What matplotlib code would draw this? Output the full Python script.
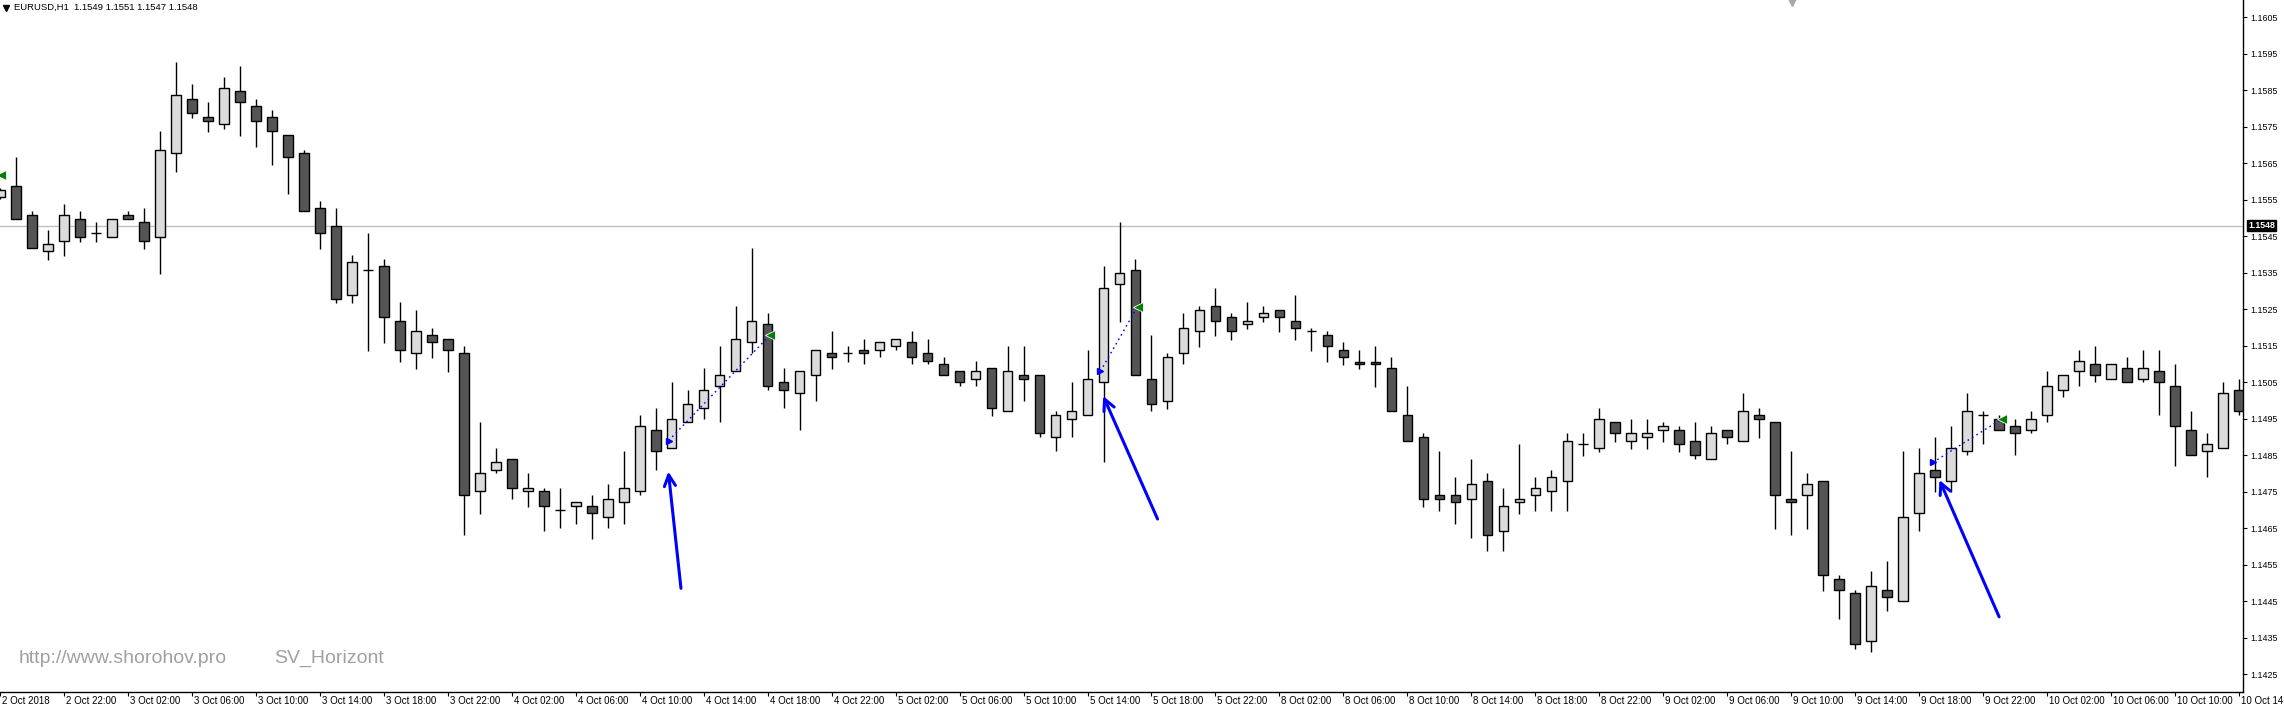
import numpy as np
import matplotlib
matplotlib.use("Agg")
import matplotlib.pyplot as plt
import matplotlib.transforms as mtransforms

plt.rcParams['font.family'] = ['Liberation Sans', 'DejaVu Sans']

# EURUSD H1 bars, 2 Oct 18:00 .. 10 Oct 14:00
opens = [1.15557, 1.15588, 1.15508, 1.15409, 1.15437, 1.15497, 1.15459, 1.15448, 1.15508, 1.15489,
         1.15448, 1.15678, 1.15826, 1.15777, 1.15757, 1.15848, 1.15807, 1.15777, 1.15727, 1.15678,
         1.15527, 1.15478, 1.15289, 1.15357, 1.15368, 1.15218, 1.15130, 1.15179, 1.15168, 1.15130,
         1.14752, 1.14809, 1.14840, 1.14752, 1.14752, 1.14700, 1.14711, 1.14711, 1.14681, 1.14722,
         1.14752, 1.14919, 1.14870, 1.14941, 1.14979, 1.15040, 1.15081, 1.15160, 1.15209, 1.15050,
         1.15020, 1.15070, 1.15130, 1.15130, 1.15138, 1.15138, 1.15149, 1.15160, 1.15130, 1.15100,
         1.15081, 1.15059, 1.15089, 1.14971, 1.15070, 1.15070, 1.14900, 1.14949, 1.14960, 1.15050,
         1.15319, 1.15357, 1.15059, 1.14998, 1.15130, 1.15190, 1.15259, 1.15229, 1.15209, 1.15229,
         1.15248, 1.15218, 1.15190, 1.15179, 1.15138, 1.15107, 1.15107, 1.15089, 1.14960, 1.14900,
         1.14741, 1.14741, 1.14730, 1.14779, 1.14642, 1.14722, 1.14741, 1.14752, 1.14779, 1.14881,
         1.14870, 1.14941, 1.14889, 1.14900, 1.14919, 1.14919, 1.14889, 1.14840, 1.14919, 1.14889,
         1.14960, 1.14941, 1.14730, 1.14741, 1.14779, 1.14511, 1.14472, 1.14341, 1.14481, 1.14450,
         1.14692, 1.14809, 1.14779, 1.14861, 1.14960, 1.14949, 1.14930, 1.14919, 1.14960, 1.15029,
         1.15081, 1.15100, 1.15059, 1.15089, 1.15059, 1.15081, 1.15040, 1.14919, 1.14861, 1.14870,
         1.15029]
highs = [1.15583, 1.15668, 1.15519, 1.15468, 1.15539, 1.15519, 1.15490, 1.15497, 1.15519, 1.15528,
         1.15739, 1.15928, 1.15868, 1.15819, 1.15887, 1.15917, 1.15826, 1.15797, 1.15727, 1.15686,
         1.15546, 1.15527, 1.15399, 1.15459, 1.15388, 1.15270, 1.15249, 1.15199, 1.15168, 1.15150,
         1.14942, 1.14870, 1.14840, 1.14801, 1.14760, 1.14760, 1.14722, 1.14741, 1.14771, 1.14862,
         1.14960, 1.14979, 1.15050, 1.15029, 1.15089, 1.15149, 1.15259, 1.15418, 1.15240, 1.15089,
         1.15081, 1.15138, 1.15190, 1.15149, 1.15168, 1.15160, 1.15168, 1.15190, 1.15168, 1.15119,
         1.15081, 1.15108, 1.15089, 1.15149, 1.15149, 1.15070, 1.14971, 1.15050, 1.15138, 1.15368,
         1.15490, 1.15388, 1.15179, 1.15130, 1.15240, 1.15259, 1.15308, 1.15240, 1.15270, 1.15259,
         1.15248, 1.15289, 1.15198, 1.15190, 1.15160, 1.15138, 1.15149, 1.15119, 1.15040, 1.14911,
         1.14861, 1.14790, 1.14840, 1.14801, 1.14760, 1.14881, 1.14790, 1.14809, 1.14911, 1.14911,
         1.14979, 1.14941, 1.14949, 1.14949, 1.14941, 1.14930, 1.14941, 1.14930, 1.14919, 1.15020,
         1.14979, 1.14941, 1.14861, 1.14801, 1.14779, 1.14522, 1.14481, 1.14533, 1.14560, 1.14861,
         1.14870, 1.14900, 1.14930, 1.15020, 1.14971, 1.14960, 1.14949, 1.14971, 1.15081, 1.15070,
         1.15138, 1.15149, 1.15100, 1.15119, 1.15138, 1.15138, 1.15100, 1.14971, 1.14911, 1.15050,
         1.15059]
lows = [1.15553, 1.15498, 1.15418, 1.15386, 1.15397, 1.15436, 1.15436, 1.15448, 1.15497, 1.15417,
        1.15348, 1.15628, 1.15775, 1.15737, 1.15745, 1.15726, 1.15696, 1.15647, 1.15567, 1.15519,
        1.15417, 1.15269, 1.15269, 1.15137, 1.15159, 1.15107, 1.15088, 1.15118, 1.15080, 1.14631,
        1.14690, 1.14801, 1.14730, 1.14710, 1.14642, 1.14650, 1.14661, 1.14620, 1.14650, 1.14661,
        1.14741, 1.14809, 1.14870, 1.14941, 1.14949, 1.14941, 1.15081, 1.15130, 1.15029, 1.14979,
        1.14919, 1.14998, 1.15088, 1.15107, 1.15100, 1.15119, 1.15138, 1.15100, 1.15100, 1.15070,
        1.15040, 1.15040, 1.14959, 1.14971, 1.14998, 1.14900, 1.14861, 1.14900, 1.14960, 1.14831,
        1.15216, 1.15070, 1.14971, 1.14978, 1.15100, 1.15148, 1.15178, 1.15167, 1.15197, 1.15216,
        1.15189, 1.15167, 1.15137, 1.15107, 1.15099, 1.15088, 1.15038, 1.14971, 1.14889, 1.14710,
        1.14699, 1.14661, 1.14624, 1.14589, 1.14589, 1.14690, 1.14699, 1.14699, 1.14699, 1.14849,
        1.14860, 1.14888, 1.14869, 1.14869, 1.14888, 1.14860, 1.14840, 1.14840, 1.14881, 1.14889,
        1.14899, 1.14649, 1.14631, 1.14649, 1.14480, 1.14401, 1.14321, 1.14312, 1.14423, 1.14450,
        1.14642, 1.14751, 1.14751, 1.14850, 1.14881, 1.14919, 1.14850, 1.14911, 1.14941, 1.15009,
        1.15040, 1.15050, 1.15059, 1.15050, 1.15050, 1.14960, 1.14820, 1.14850, 1.14790, 1.14870,
        1.14960]
closes = [1.15577, 1.15498, 1.15418, 1.15429, 1.15508, 1.15448, 1.15459, 1.15497, 1.15497, 1.15437,
          1.15686, 1.15837, 1.15788, 1.15766, 1.15856, 1.15818, 1.15766, 1.15738, 1.15667, 1.15519,
          1.15459, 1.15278, 1.15379, 1.15357, 1.15229, 1.15138, 1.15190, 1.15160, 1.15138, 1.14741,
          1.14801, 1.14831, 1.14760, 1.14760, 1.14711, 1.14700, 1.14722, 1.14692, 1.14730, 1.14760,
          1.14930, 1.14861, 1.14949, 1.14990, 1.15029, 1.15070, 1.15168, 1.15218, 1.15040, 1.15029,
          1.15081, 1.15138, 1.15119, 1.15130, 1.15130, 1.15160, 1.15168, 1.15119, 1.15108, 1.15070,
          1.15050, 1.15081, 1.14979, 1.15081, 1.15059, 1.14911, 1.14960, 1.14971, 1.15059, 1.15308,
          1.15349, 1.15070, 1.14990, 1.15119, 1.15198, 1.15248, 1.15218, 1.15190, 1.15218, 1.15240,
          1.15229, 1.15198, 1.15190, 1.15149, 1.15119, 1.15100, 1.15100, 1.14971, 1.14889, 1.14730,
          1.14730, 1.14722, 1.14771, 1.14631, 1.14711, 1.14730, 1.14760, 1.14790, 1.14889, 1.14881,
          1.14949, 1.14911, 1.14911, 1.14911, 1.14930, 1.14881, 1.14850, 1.14911, 1.14900, 1.14971,
          1.14949, 1.14741, 1.14722, 1.14771, 1.14522, 1.14481, 1.14333, 1.14492, 1.14461, 1.14681,
          1.14801, 1.14790, 1.14870, 1.14971, 1.14960, 1.14919, 1.14911, 1.14949, 1.15040, 1.15070,
          1.15108, 1.15070, 1.15100, 1.15050, 1.15089, 1.15050, 1.14930, 1.14850, 1.14881, 1.15020,
          1.14971]

time_labels = ["2 Oct 2018", "2 Oct 22:00", "3 Oct 02:00", "3 Oct 06:00", "3 Oct 10:00", "3 Oct 14:00",
               "3 Oct 18:00", "3 Oct 22:00", "4 Oct 02:00", "4 Oct 06:00", "4 Oct 10:00", "4 Oct 14:00",
               "4 Oct 18:00", "4 Oct 22:00", "5 Oct 02:00", "5 Oct 06:00", "5 Oct 10:00", "5 Oct 14:00",
               "5 Oct 18:00", "5 Oct 22:00", "8 Oct 02:00", "8 Oct 06:00", "8 Oct 10:00", "8 Oct 14:00",
               "8 Oct 18:00", "8 Oct 22:00", "9 Oct 02:00", "9 Oct 06:00", "9 Oct 10:00", "9 Oct 14:00",
               "9 Oct 18:00", "9 Oct 22:00", "10 Oct 02:00", "10 Oct 06:00", "10 Oct 10:00", "10 Oct 14:00"]
price_ticks = [1.1425, 1.1435, 1.1445, 1.1455, 1.1465, 1.1475, 1.1485, 1.1495, 1.1505, 1.1515,
               1.1525, 1.1535, 1.1545, 1.1555, 1.1565, 1.1575, 1.1585, 1.1595, 1.1605]
last_price = 1.1548

# hand-drawn arrows (tail bar, tail price, head bar, head price)
arrow_tail_x = [42.58, 72.38, 125.0]
arrow_tail_p = [1.14486, 1.14676, 1.14408]
arrow_head_x = [41.79, 68.98, 121.27]
arrow_head_p = [1.14806, 1.15013, 1.14783]

# indicator signals: blue start -> green end
sig_start_x = [41.81, 68.81, 120.86]
sig_start_p = [1.14891, 1.15081, 1.14831]
sig_end_x = [48.13, 71.13, 125.17]
sig_end_p = [1.15179, 1.15258, 1.14950]
sig_edge_x = 0.06
sig_edge_p = 1.15619

W, H = 2284, 708
fig = plt.figure(figsize=(W / 100, H / 100), dpi=100)
fig.patch.set_facecolor("white")
ax = fig.add_axes([0, 16.5 / H, 2243 / W, 691.5 / H])

x = np.arange(len(opens))
o = np.array(opens)
c = np.array(closes)
up = c >= o
bottoms = np.minimum(o, c)
heights = np.abs(c - o)
colors = np.where(up, "#dcdcdc", "#555555")

ax.vlines(x, lows, highs, color="black", lw=1.0, zorder=1)
ax.bar(x, heights, bottom=bottoms, width=0.6, color=colors, edgecolor="black", linewidth=1.0, zorder=2)

ax.axhline(last_price, color="#c0c0c0", lw=1.0, zorder=0)

for i in range(len(sig_start_x)):
    ax.plot([sig_start_x[i], sig_end_x[i]], [sig_start_p[i], sig_end_p[i]], color="#0000ff",
            lw=1.0, linestyle=(0, (1.2, 2.5)), zorder=3)
    ax.plot(sig_start_x[i], sig_start_p[i], marker=">", color="#0000ff", markersize=5, zorder=4)
    ax.plot(sig_end_x[i], sig_end_p[i], marker="<", color="#008000", markeredgecolor="white",
            markeredgewidth=0.6, markersize=7, zorder=4)
ax.plot(sig_edge_x, sig_edge_p, marker="<", color="#008000", markeredgecolor="white",
        markeredgewidth=0.6, markersize=7, zorder=4)

for i in range(len(arrow_tail_x)):
    ax.annotate("", xy=(arrow_head_x[i], arrow_head_p[i]), xytext=(arrow_tail_x[i], arrow_tail_p[i]),
                arrowprops=dict(arrowstyle="->", color="#0000ff", lw=2.2, mutation_scale=20,
                                shrinkA=0, shrinkB=0), zorder=5)

ax.set_xlim(0.0625, 140.25)
ax.set_ylim(1.142034, 1.160979)

for s in ["top", "left"]:
    ax.spines[s].set_visible(False)
for s in ["right", "bottom"]:
    ax.spines[s].set_linewidth(1.0)
    ax.spines[s].set_color("black")

ax.yaxis.tick_right()
ax.set_yticks(price_ticks)
ax.set_yticklabels(["%.4f" % p for p in price_ticks])
ax.tick_params(axis="y", direction="out", length=3, width=0.8, pad=2.5, labelsize=6.4)

ax.set_xticks(np.arange(0, len(opens), 4))
ax.set_xticklabels(time_labels)
ax.tick_params(axis="x", direction="out", length=3, width=0.8, pad=0.5, labelsize=7)
shift = mtransforms.ScaledTranslation(2 / 100, 0, fig.dpi_scale_trans)
for lab in ax.get_xticklabels():
    lab.set_ha("left")
    lab.set_transform(lab.get_transform() + shift)

# current price box on the price scale
ax.text(1.0 + 5 / 2243, last_price, "%.4f" % last_price, transform=ax.get_yaxis_transform(),
        color="white", fontsize=6.4, fontweight="bold", va="center", ha="left", clip_on=False,
        bbox=dict(boxstyle="square,pad=0.15", facecolor="black", edgecolor="black"))

# header
ax.plot(5.5 / 2243, 1 - 7.5 / 691.5, marker="v", color="black", markersize=4,
        transform=ax.transAxes, clip_on=False)
fig.text(14.5 / W, 1 - 7.5 / H, "EURUSD,H1  1.1549 1.1551 1.1547 1.1548", fontsize=6.8,
         va="center", ha="left", color="black")

# chart shift marker
ax.plot(1792 / 2243, 1.0, marker="v", color="#a8a8a8", markersize=8,
        transform=ax.transAxes, clip_on=False)

fig.text(19 / W, 1 - 658.5 / H, "http://www.shorohov.pro", fontsize=14, color="#a0a0a0",
         va="center", ha="left")
fig.text(274 / W, 1 - 658.5 / H, "SV_Horizont", fontsize=14, color="#a0a0a0",
         va="center", ha="left")

fig.savefig("out.png", dpi=100, facecolor="white")
